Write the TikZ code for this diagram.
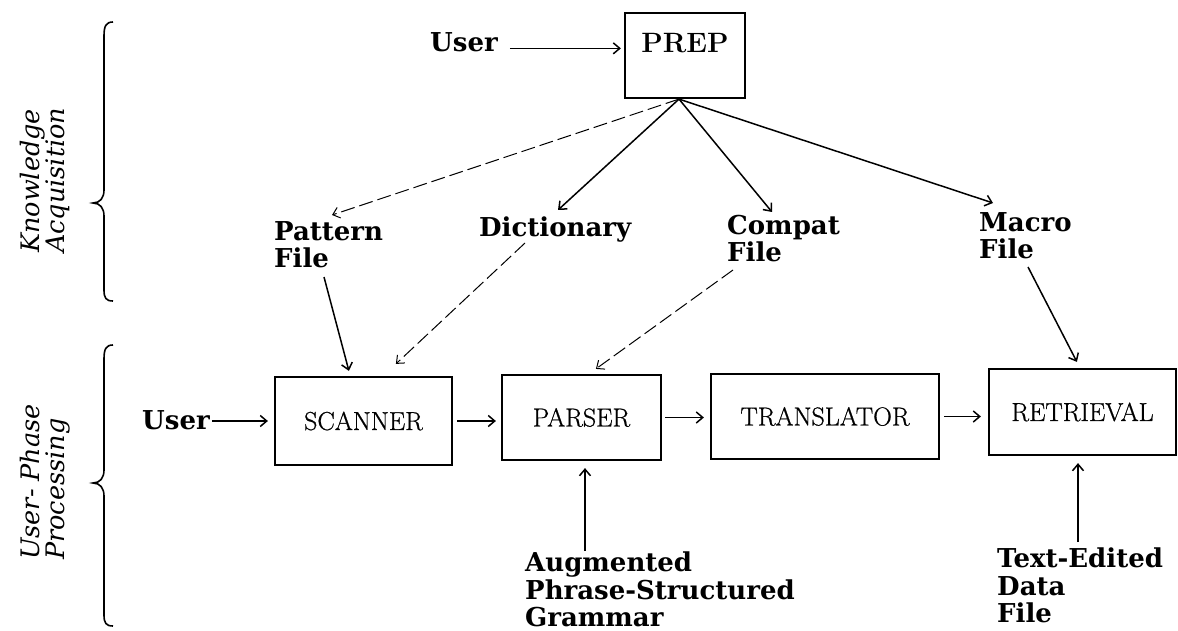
\documentclass[tikz,border=0pt]{standalone}
\usepackage{fontspec}
\newfontfamily\lblfont{DejaVu Serif}
\newfontfamily\boxfont{Latin Modern Roman}[FakeBold=0.7]
\usetikzlibrary{arrows.meta,calc}
\begin{document}
\begin{tikzpicture}[x=1pt,y=-1pt,
  box/.style={draw, line width=2.2pt, inner sep=0pt, font=\boxfont\fontsize{26}{28}\selectfont},
  lbl/.style={inner sep=0pt, align=left, anchor=north west, font=\lblfont\bfseries\fontsize{26}{27.5}\selectfont},
  side/.style={inner sep=0pt, align=left, rotate=90, anchor=north west, font=\lblfont\itshape\fontsize{25.5}{25}\selectfont},
  arr/.style={line width=1.5pt, -{Straight Barb[length=6.5pt,width=11pt]}},
  faint/.style={arr, line width=1pt, dash pattern=on 14pt off 5pt},
  brace/.style={line width=1.6pt}
]
\useasboundingbox (0,0) rectangle (1178,631);

% processing stages
\node[box, minimum width=120pt, minimum height=85pt, text height=18pt, text depth=24pt,
      font=\bfseries\fontsize{28}{30}\selectfont] (prep) at (685,55.5) {PREP};
\node[box, minimum width=177pt, minimum height=88pt] (scan) at (363.5,421) {SCANNER};
\node[box, minimum width=159pt, minimum height=85pt] (parser) at (581.5,417.5) {PARSER};
\node[box, minimum width=228pt, minimum height=85pt] (trans) at (825,416.5) {TRANSLATOR};
\node[box, minimum width=187pt, minimum height=86pt] (retr) at (1082.5,412) {RETRIEVAL};

% inputs and files
\node[lbl] (user1) at (430,32) {User};
\node[lbl] (pat) at (274,221) {Pattern\\File};
\node[lbl] (dict) at (479,217) {Dictionary};
\node[lbl] (compat) at (727,215) {Compat\\File};
\node[lbl] (macro) at (979,212) {Macro\\File};
\node[lbl] (user2) at (142,410) {User};
\node[lbl] (gram) at (525,552) {Augmented\\Phrase-Structured\\Grammar};
\node[lbl] (ted) at (997,548) {Text-Edited\\Data\\File};

% phase labels
\node[side] (ka) at (20,253) {Knowledge\\Acquisition};
\node[side] (upp) at (20,560) {User- Phase\\Processing};

% braces
\draw[brace] (113,22) .. controls (106,22) and (104,26) .. (104,36) -- (104,190)
  .. controls (104,198) and (100,203) .. (93,203)
  .. controls (100,203) and (104,208) .. (104,216) -- (104,290)
  .. controls (104,298) and (106,301) .. (113,301);
\draw[brace] (113,345) .. controls (106,345) and (104,349) .. (104,359) -- (104,470)
  .. controls (104,478) and (100,483) .. (93,483)
  .. controls (100,483) and (104,488) .. (104,496) -- (104,615)
  .. controls (104,623) and (106,626) .. (113,626);

% knowledge acquisition
\coordinate (u1) at ([yshift=-6.5pt]user1.east);
\draw[arr, shorten <=12pt, shorten >=3pt] (u1) -- (u1 -| prep.west);
\coordinate (pf) at ([xshift=-6pt]prep.south);
\draw[faint] (pf) -- ([xshift=58pt,yshift=6pt]pat.north west);
\draw[arr] (pf) -- ([xshift=79pt,yshift=7pt]dict.north west);
\draw[arr] (pf) -- ([xshift=45pt,yshift=3pt]compat.north west);
\draw[arr] (pf) -- ([xshift=14pt,yshift=9pt]macro.north west);

% files feeding the user phase
\draw[arr] ([xshift=50pt,yshift=-56pt]pat.north west) -- ([xshift=75pt,yshift=5pt]scan.north west);
\draw[faint] ([xshift=46pt,yshift=-26pt]dict.north west) -- ([xshift=122pt,yshift=12pt]scan.north west);
\draw[faint] ([xshift=6pt,yshift=-55pt]compat.north west) -- ([xshift=95pt,yshift=5pt]parser.north west);
\draw[arr] ([xshift=49pt,yshift=-55pt]macro.north west) -- ([xshift=89pt,yshift=6pt]retr.north west);
\coordinate (g0) at ([xshift=60pt,yshift=1pt]gram.north west);
\draw[arr, shorten >=7pt] (g0) -- (g0 |- parser.south);
\coordinate (t0) at ([xshift=81pt,yshift=6pt]ted.north west);
\draw[arr, shorten >=7pt] (t0) -- (t0 |- retr.south);

% user phase pipeline
\draw[arr, shorten <=2pt, shorten >=6pt] (user2.east |- scan.west) -- (scan.west);
\draw[arr, shorten <=4pt, shorten >=5pt] (scan.east) -- (scan.east -| parser.west);
\draw[arr, shorten <=3pt, shorten >=6pt] (parser.east) -- (parser.east -| trans.west);
\draw[arr, shorten <=4pt, shorten >=7pt] (trans.east) -- (trans.east -| retr.west);
\end{tikzpicture}
\end{document}
